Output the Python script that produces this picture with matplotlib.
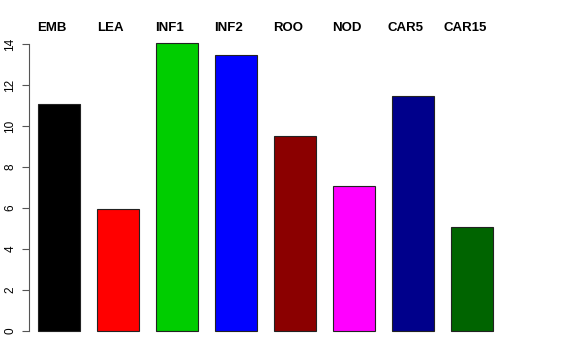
import numpy as np
import matplotlib
matplotlib.use("Agg")
import matplotlib.pyplot as plt

plt.rcParams['font.family'] = ['Liberation Sans', 'DejaVu Sans']

# Données du graphique
categories = ["EMB", "LEA", "INF1", "INF2", "ROO", "NOD", "CAR5", "CAR15"]
values = [11.05, 5.95, 14.05, 13.47, 9.52, 7.05, 11.48, 5.05]
colors = ["#000000", "#FF0000", "#00CD00", "#0000FF", "#8B0000", "#FF00FF", "#00008B", "#006400"]
yticks = [0, 2, 4, 6, 8, 10, 12, 14]

W, H = 576, 360
fig = plt.figure(figsize=(W / 100, H / 100), dpi=100)

# zone de tracé en pixels (gauche, bas, droite, haut)
left_px, right_px, top_px, bottom_px = 29, 547, 40, 336
ax = fig.add_axes([left_px / W, 1 - bottom_px / H,
                   (right_px - left_px) / W, (bottom_px - top_px) / H])

x = np.arange(len(categories))
ax.bar(x, values, width=0.71, color=colors, edgecolor="#222222", linewidth=0.8)

pitch = 59.0
ax.set_xlim((left_px - 59) / pitch, (right_px - 59) / pitch)
ax.set_ylim((331 - bottom_px) / 20.5, (331 - top_px) / 20.5)

# étiquettes en haut
for xi, lab in zip(x, categories):
    ax.text(xi - 0.12, 1.0 + 6 / (bottom_px - top_px), lab, transform=ax.get_xaxis_transform(),
            ha="center", va="bottom", fontsize=9.5, fontweight="bold")

for s in ["top", "right", "bottom"]:
    ax.spines[s].set_visible(False)
ax.spines["left"].set_bounds(0, 14)
ax.spines["left"].set_color("#555555")
ax.spines["left"].set_linewidth(0.8)

ax.set_xticks([])
ax.set_yticks(yticks)
ax.set_yticklabels([str(t) for t in yticks], rotation=90, va="center", fontsize=8.5)
ax.tick_params(axis="y", length=5, width=0.8, color="#555555", pad=4)

fig.savefig("out.png", dpi=100)
